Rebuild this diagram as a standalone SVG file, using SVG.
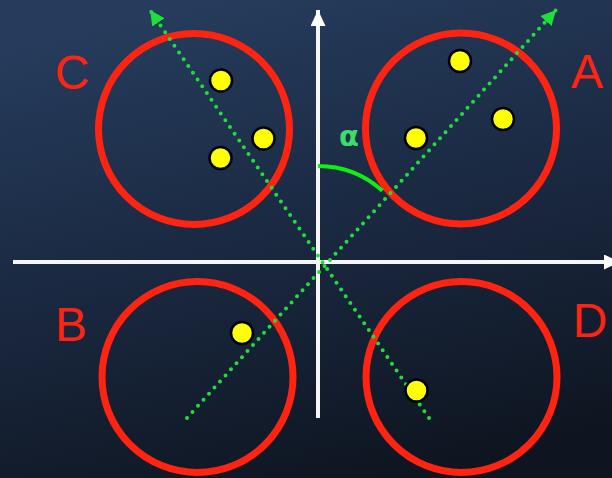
<svg xmlns="http://www.w3.org/2000/svg" width="612" height="478" viewBox="0 0 612 478">
<defs>
  <linearGradient id="bg" x1="0.35" y1="0" x2="0.65" y2="1">
    <stop offset="0" stop-color="#253c5c"/>
    <stop offset="0.5" stop-color="#1a2840"/>
    <stop offset="1" stop-color="#0e1520"/>
  </linearGradient>
  <marker id="gArrow" markerUnits="userSpaceOnUse" markerWidth="16" markerHeight="16" viewBox="0 0 16 16" refX="15" refY="7.5" orient="auto">
    <path d="M0,0 L15,7.5 L0,15 z" fill="#1fe03a"/>
  </marker>
  <marker id="wArrow" markerUnits="userSpaceOnUse" markerWidth="17" markerHeight="16" viewBox="0 0 17 16" refX="16" refY="7.5" orient="auto">
    <path d="M0,0 L16,7.5 L0,15 z" fill="#ffffff"/>
  </marker>
</defs>
<style>
  .ring { fill: none; stroke: #ff2412; stroke-width: 7; }
  .pt { fill: #ffff00; stroke: #000; stroke-width: 2.5; }
  .lbl { font-family: "Liberation Sans", Arial, sans-serif; font-size: 48px; fill: #ff2412; text-anchor: middle; }
  .axis { stroke: #f6f6f6; stroke-width: 4; fill: none; }
  .dots { stroke: #1fe03a; stroke-width: 4; stroke-linecap: round; stroke-dasharray: 0 8.2; fill: none; }
  .arc { stroke: #11ee11; stroke-width: 4; fill: none; }
  .alpha { font-family: "DejaVu Sans", "Liberation Sans", sans-serif; font-size: 29px; font-weight: bold; fill: #3ddc6b; text-anchor: middle; }
</style>
<rect x="0" y="0" width="612" height="478" fill="url(#bg)"/>

<g id="node-A">
  <circle class="ring" cx="461" cy="128.5" r="95.5"/>
  <text class="lbl" x="587" y="88">A</text>
</g>
<g id="node-C">
  <circle class="ring" cx="194" cy="129" r="95.5"/>
  <text class="lbl" x="72" y="89">C</text>
</g>
<g id="node-B">
  <circle class="ring" cx="197.5" cy="377" r="95.5"/>
  <text class="lbl" x="71" y="341">B</text>
</g>
<g id="node-D">
  <circle class="ring" cx="461.5" cy="377" r="95.5"/>
  <text class="lbl" x="590" y="337">D</text>
</g>

<g id="connectors">
  <line class="axis" x1="318" y1="418" x2="318" y2="10" marker-end="url(#wArrow)"/>
  <line class="axis" x1="13" y1="262" x2="620" y2="262" marker-end="url(#wArrow)"/>
  <line class="dots" x1="187" y1="418" x2="556" y2="10" marker-end="url(#gArrow)"/>
  <line class="dots" x1="429" y1="418" x2="150" y2="10" marker-end="url(#gArrow)"/>
  <path class="arc" d="M318,166 A96,96 0 0 1 382.4,190.8"/>
  <text class="alpha" x="349" y="146">α</text>
</g>

<g id="points">
  <circle class="pt" cx="460" cy="61" r="11"/>
  <circle class="pt" cx="503" cy="119" r="11"/>
  <circle class="pt" cx="416" cy="138" r="11"/>
  <circle class="pt" cx="221" cy="80.5" r="11"/>
  <circle class="pt" cx="263.5" cy="138.5" r="11"/>
  <circle class="pt" cx="220.5" cy="158" r="11"/>
  <circle class="pt" cx="242" cy="333" r="11"/>
  <circle class="pt" cx="416.5" cy="390.5" r="11"/>
</g>
</svg>
